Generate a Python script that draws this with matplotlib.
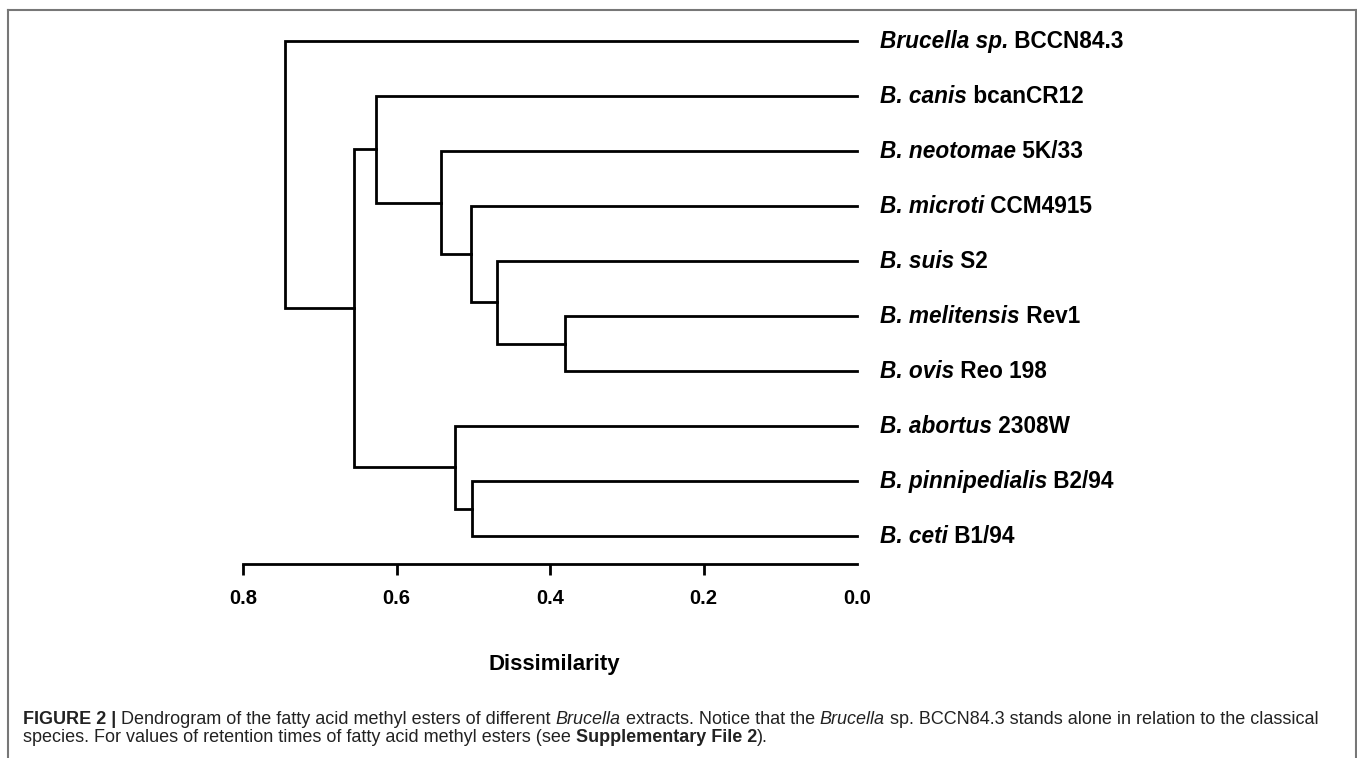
import matplotlib
matplotlib.use("Agg")
import matplotlib.pyplot as plt
from matplotlib.lines import Line2D

# leaves, top to bottom
species = ["Brucella sp.", "B. canis", "B. neotomae", "B. microti", "B. suis",
           "B. melitensis", "B. ovis", "B. abortus", "B. pinnipedialis", "B. ceti"]
strains = ["BCCN84.3", "bcanCR12", "5K/33", "CCM4915", "S2",
           "Rev1", "Reo 198", "2308W", "B2/94", "B1/94"]

# merges: (child a, child b, dissimilarity); ids >= 10 are earlier merges
merges = [(5, 6, 0.381), (8, 9, 0.502), (4, 10, 0.469), (3, 12, 0.5035),
          (7, 11, 0.524), (2, 13, 0.542), (1, 15, 0.6265), (16, 14, 0.656),
          (0, 17, 0.745)]

ticks = [0.8, 0.6, 0.4, 0.2, 0.0]

plt.rcParams['font.family'] = ['Liberation Sans', 'DejaVu Sans']

W, H = 1357, 758
fig = plt.figure(figsize=(W / 100, H / 100), dpi=100)
ax = fig.add_axes([243 / W, 1 - 564 / H, 614 / W, 534 / H])

n = len(species)
pos_y = {i: n - 1 - i for i in range(n)}
pos_x = {i: 0.0 for i in range(n)}
lw = 2.0
for k, (a, b, h) in enumerate(merges):
    ax.plot([pos_x[a], h, h, pos_x[b]], [pos_y[a], pos_y[a], pos_y[b], pos_y[b]],
            color='black', lw=lw, solid_joinstyle='miter', clip_on=False)
    pos_x[n + k] = h
    pos_y[n + k] = (pos_y[a] + pos_y[b]) / 2

ax.set_xlim(0.8, 0.0)
ax.set_ylim(-0.509, 9.2)
for s in ['top', 'right', 'left']:
    ax.spines[s].set_visible(False)
ax.spines['bottom'].set_linewidth(lw)
ax.set_yticks([])
ax.set_xticks(ticks)
ax.set_xticklabels([f"{t:.1f}" for t in ticks], fontsize=14.5, fontweight='bold')
ax.tick_params(axis='x', direction='out', length=8, width=lw, pad=10)
ax.xaxis.get_major_ticks()[-1].tick1line.set_visible(False)

for i in range(n):
    t1 = ax.annotate(species[i], xy=(0.0, pos_y[i]), xytext=(16.5, 0),
                     textcoords='offset points', va='center', ha='left',
                     fontsize=16.3, fontweight='bold', fontstyle='italic')
    ax.annotate(" " + strains[i], xy=(1, 0), xycoords=t1, va='bottom', ha='left',
                fontsize=16.3, fontweight='bold')

fig.text(554 / W, 1 - 670 / H, "Dissimilarity", ha='center', va='baseline',
         fontsize=16, fontweight='bold')

# caption
cap_col = '#222222'
cap_size = 13
line1 = [("FIGURE 2 |", 'bold', 'normal'),
         (" Dendrogram of the fatty acid methyl esters of different ", 'normal', 'normal'),
         ("Brucella", 'normal', 'italic'),
         (" extracts. Notice that the ", 'normal', 'normal'),
         ("Brucella", 'normal', 'italic'),
         (" sp. BCCN84.3 stands alone in relation to the classical", 'normal', 'normal')]
line2 = [("species. For values of retention times of fatty acid methyl esters (see ", 'normal', 'normal'),
         ("Supplementary File 2", 'bold', 'normal'),
         (").", 'normal', 'normal')]

for pieces, base in [(line1, 724), (line2, 742)]:
    prev = None
    for txt, wt, st in pieces:
        if prev is None:
            prev = fig.text(23 / W, 1 - base / H, txt, ha='left', va='baseline',
                            fontsize=cap_size, fontweight=wt, fontstyle=st, color=cap_col)
        else:
            prev = fig.add_artist(plt.Annotation(txt, xy=(1, 0), xycoords=prev,
                                                 va='bottom', ha='left', fontsize=cap_size,
                                                 fontweight=wt, fontstyle=st, color=cap_col))

# frame around the figure panel
bc = '#777777'
fig.add_artist(Line2D([7.5 / W, 7.5 / W], [0, 1 - 10 / H], color=bc, lw=1.5))
fig.add_artist(Line2D([7.5 / W, 1355.5 / W], [1 - 10 / H, 1 - 10 / H], color=bc, lw=1.5))
fig.add_artist(Line2D([1355.5 / W, 1355.5 / W], [0, 1 - 10 / H], color=bc, lw=1.5))

fig.savefig("out.png", dpi=100)
